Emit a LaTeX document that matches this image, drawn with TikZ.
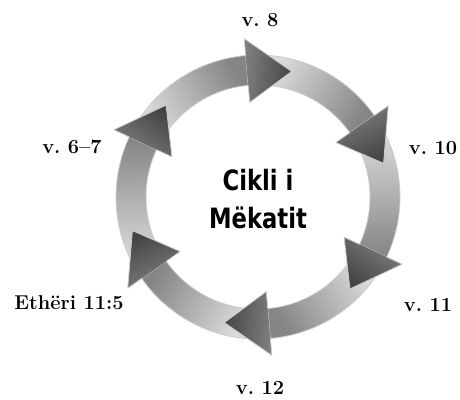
\documentclass[tikz,border=0pt]{standalone}
\usepackage{fontspec}
\newfontfamily\cyclefont{DejaVu Sans Condensed}[FakeStretch=0.9]
\definecolor{ringlight}{gray}{0.86}
\definecolor{ringmid}{gray}{0.52}
\definecolor{headmid}{gray}{0.50}
\definecolor{headdark}{gray}{0.27}
\definecolor{ringedge}{gray}{0.80}
\tikzset{
  verse/.style={font=\fontsize{20}{24}\selectfont\bfseries\frenchspacing},
  title/.style={font=\cyclefont\fontsize{28}{38}\selectfont\bfseries,align=center},
  rim/.style={draw=ringedge,line width=0.8pt,line join=round},
}
\begin{document}
\begin{tikzpicture}[x=1pt,y=1pt]
  \useasboundingbox (0,0) rectangle (460,399);
  \coordinate (c) at (258,202);
  % ring bodies, light at the tail
  \foreach \b in {95,35,-25,-85,-145,-205}{
    \pgfmathsetmacro{\t}{\b+52}
    \pgfmathsetmacro{\m}{\b+26}
    \shade[top color=ringlight,bottom color=ringmid,shading angle=\m,rim]
      ([shift={(\t:142)}]c) arc[start angle=\t,end angle=\b,radius=142]
      -- ([shift={(\b:112)}]c) arc[start angle=\b,end angle=\t,radius=112] -- cycle;
  }
  % arrow heads on top
  \foreach \b in {95,35,-25,-85,-145,-205}{
    \pgfmathsetmacro{\p}{\b-20}
    \pgfmathsetmacro{\m}{\b-10}
    \shade[top color=headmid,bottom color=headdark,shading angle=\m]
      ([shift={(\b:95)}]c) -- ([shift={(\p:130)}]c) -- ([shift={(\b:159)}]c) -- cycle;
    \draw[rim] ([shift={(\b:112)}]c) -- ([shift={(\b:95)}]c) -- ([shift={(\p:130)}]c)
      -- ([shift={(\b:159)}]c) -- ([shift={(\b:142)}]c);
  }
  \node[title] (cycle) at (258,200) {Cikli i\\Mëkatit};
  \node[verse] (v8) at (260,379) {v. 8};
  \node[verse] (v10) at (433,251) {v. 10};
  \node[verse] (v11) at (428,94) {v. 11};
  \node[verse] (v12) at (260,11) {v. 12};
  \node[verse] (ether) at (69,96) {Ethëri 11:5};
  \node[verse] (v67) at (72,252) {v. 6–7};
\end{tikzpicture}
\end{document}
